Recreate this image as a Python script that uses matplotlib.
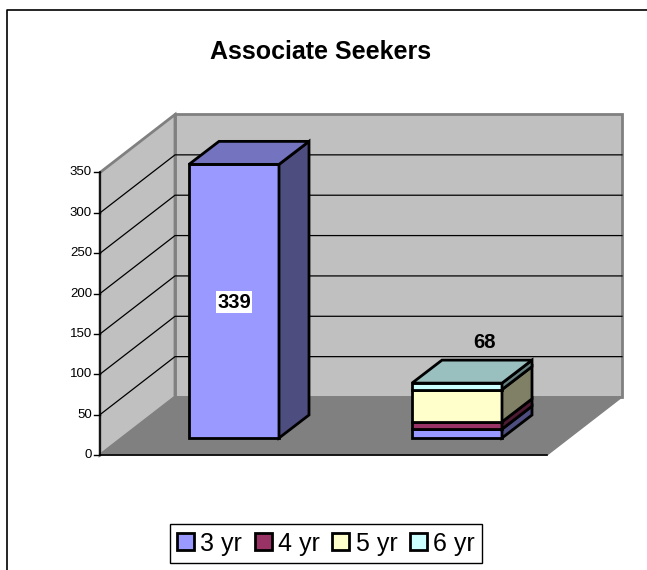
import matplotlib
matplotlib.use('Agg')
import matplotlib.pyplot as plt
from matplotlib.patches import Polygon, Rectangle

plt.rcParams['font.family'] = ['Liberation Sans', 'DejaVu Sans']

# chart values
title = 'Associate Seekers'
y_ticks = [0, 50, 100, 150, 200, 250, 300, 350]
series_names = ['3 yr', '4 yr', '5 yr', '6 yr']
colors = ['#9999ff', '#993366', '#ffffcc', '#ccffff']
side_colors = ['#4d4d80', '#4d1a33', '#808066', '#668080']
top_colors = ['#7373bf', '#732650', '#bfbf99', '#99bfbf']
# first category only has the 3 yr part
first_bar = [339]
second_bar = [11, 9, 40, 8]
bar_labels = ['339', '68']

W, H = 647, 570
px_per_unit = 282.5 / 350
y0_px = 455

fig = plt.figure(figsize=(W / 100, H / 100), dpi=100)
ax = fig.add_axes([0, 0, 1, 1])
ax.set_xlim(0, W)
# y axis is in chart units, x is in pixels
ax.set_ylim(-(H - y0_px) / px_per_unit, y0_px / px_per_unit)
ax.axis('off')


def py(px):
    # pixel row to chart units, only for placing labels and the frame
    return (y0_px - px) / px_per_unit


# depth of the box and of the bars
box_dx, box_dy = 75, 58 / px_per_unit
bar_dx, bar_dy = 30, 23 / px_per_unit
x0, x1 = 100, 547
ymax = 350
floor_off = 17 / px_per_unit

# outer frame, only left and top show up
ax.plot([7, 7, W], [py(H), py(10), py(10)], color='black', lw=1.2, zorder=0)

# walls and floor
ax.add_patch(Polygon([(x0 + box_dx, box_dy), (x1 + box_dx, box_dy), (x1 + box_dx, box_dy + ymax), (x0 + box_dx, box_dy + ymax)],
                     fc='#c0c0c0', ec='#808080', lw=2, zorder=1))
ax.add_patch(Polygon([(x0, 0), (x0 + box_dx, box_dy), (x0 + box_dx, box_dy + ymax), (x0, ymax)],
                     fc='#c0c0c0', ec='#808080', lw=2, zorder=1))
ax.add_patch(Polygon([(x0, 0), (x1, 0), (x1 + box_dx, box_dy), (x0 + box_dx, box_dy)],
                     fc='#808080', ec='#808080', lw=1, zorder=2))

# gridlines
for t in y_ticks[1:-1]:
    ax.plot([x0, x0 + box_dx, x1 + box_dx], [t, t + box_dy, t + box_dy], color='black', lw=0.9, zorder=2)

# axis lines and ticks
ax.plot([x0, x0], [0, ymax], color='black', lw=1.2, zorder=3)
ax.plot([x0, x1], [0, 0], color='black', lw=1.2, zorder=3)
for t in y_ticks:
    ax.plot([x0 - 6, x0], [t, t], color='black', lw=1, zorder=3)
    ax.text(x0 - 8, t, str(t), ha='right', va='center', fontsize=9.5, color='black', zorder=4)


def draw_stack(left, values, width=90):
    base = floor_off
    for v, c, sc, tc in zip(values, colors, side_colors, top_colors):
        top = base + v
        ax.add_patch(Rectangle((left, base), width, v, fc=c, ec='black', lw=2, zorder=5, joinstyle='miter'))
        ax.add_patch(Polygon([(left + width, base), (left + width + bar_dx, base + bar_dy),
                              (left + width + bar_dx, top + bar_dy), (left + width, top)],
                             fc=sc, ec='black', lw=2, zorder=5, joinstyle='miter'))
        base = top
    ax.add_patch(Polygon([(left, base), (left + width, base), (left + width + bar_dx, base + bar_dy),
                          (left + bar_dx, base + bar_dy)],
                         fc=tc, ec='black', lw=2, zorder=5, joinstyle='miter'))


draw_stack(189, first_bar)
draw_stack(412, second_bar)

# data labels
ax.text(234, py(302), bar_labels[0], ha='center', va='center', fontsize=14.5, fontweight='bold',
        bbox=dict(fc='white', ec='none', pad=1.2), zorder=6)
ax.text(484, py(343), bar_labels[1], ha='center', va='center', fontsize=14.5, fontweight='bold', zorder=6)

# title
ax.text(321, py(52), title, ha='center', va='center', fontsize=18, fontweight='bold')

# legend
handles = [Rectangle((0, 0), 1, 1, fc=c, ec='black', lw=2) for c in colors]
fig.legend(handles, series_names, ncol=4, loc='center', bbox_to_anchor=(326 / W, 1 - 543.5 / H),
           fontsize=18, fancybox=False, framealpha=1, edgecolor='black',
           handlelength=0.68, handleheight=0.68, handletextpad=0.25, columnspacing=0.5, borderpad=0.3, borderaxespad=0)

fig.savefig('out.png', dpi=100)
